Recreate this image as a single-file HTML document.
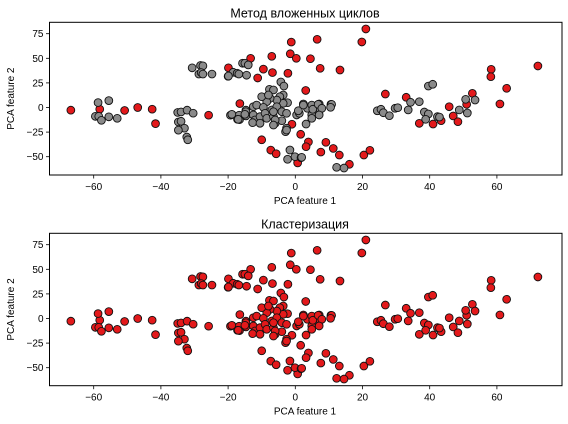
<!DOCTYPE html>
<html><head><meta charset="utf-8"><style>
body{margin:0;background:#fff;}
svg{display:block;font-family:"Liberation Sans","DejaVu Sans",sans-serif;}
</style></head><body>
<svg id="chart" width="568" height="424" viewBox="0 0 568 424" xmlns="http://www.w3.org/2000/svg"></svg>
<script>
// data: PCA feature 1, PCA feature 2, nested-loop outlier label (1 = red)
const xs = [-66.8,-58.2,-50.8,-46.9,-42.6,-41.6,-25.8,-19.9,-16.5,-13.3,-11.2,-9.5,-10,-7.3,-5.7,-7,-6.8,-2.2,-1.2,-1.5,0.3,-1,0.7,1.6,3.1,3.9,3.2,9.1,7.6,11.3,13.1,6.5,21,19.8,4.5,7.4,13.3,26.8,33,16.1,20.4,22.2,36.9,41,43.4,45.8,47,48.4,51,52.7,58.3,58.2,62.9,60.9,72.2,
-58.7,-55.5,-59.5,-58.5,-57.7,-55.5,-53,-35,-34,-32.2,-30.4,-34.8,-34,-33,-34.8,-32.3,-32,-30.7,-28.2,-27.5,-28.7,-28,-27.5,-24.8,-20,-18.5,-17.3,-16.8,-15.7,-15,-14,-14.5,-19.3,-18.8,-16.7,-17.2,-16.6,-14.7,-14.5,-14.7,
-7.7,-6.5,-4.3,-3.4,-3.6,-4.6,-2.3,-3.6,-5.5,-7.5,-8.5,-10,-8,-12.5,-11.5,-9.5,-7,-5.5,-4,-2.6,-18.9,-17,-14.7,-15,-12.5,-12,-12.7,-10.5,-10.5,-9,-8.5,-6.5,-6,-4,-6.5,-2.6,-2.9,0.4,1.2,2.4,3.6,4.9,7.1,7.4,4.9,3.2,0.9,10.6,5.2,-1.6,-0.1,1.7,-2.3,12.3,14.5,2.4,6.8,7.9,7.1,4.9,10.8,10.5,1.9,-6,-6.5,-2.6,-19.9,
24.4,25.5,26.2,28,29.7,30.5,33.6,34.3,36.9,38.4,39.6,38.8,42.3,42.9,39.6,40.9,48.8,51.2,50.7,53.5];
const ys = [-2.7,-1.7,-3,0,-1.7,-16.4,-7.8,40.3,4,50,30,39,-32.8,-43.3,-47,52,35.5,34.8,66.5,54.6,50,-17,-56.3,-27.2,17.3,-35,-39.8,-35.4,-45.3,-41.6,-48.3,69.3,79.8,66.6,49.6,39.8,38.1,13.7,10.4,-57.7,-48.3,-43.5,-16.1,-16.8,-13.4,0.8,-8.6,-14.4,3.2,14.4,38.8,31.3,19.5,3.6,42.2,
5,7,-9,-9,-13,-9.5,-11,-5,-4.5,-2.7,-5.8,-14.7,-14,-21,-23,-30,-32.8,40.3,42.7,42.3,34,35.5,34,34,31.7,35.8,34.8,34,45,45,43.3,32.8,-7.8,-7.2,-7.8,-12,-12.3,-2.7,-6.5,-8.5,
18.5,17.8,26,21.8,12.7,11,4.9,4.3,7.6,9.3,5.9,11,12.7,0.8,2.5,0.2,-2.5,0.8,-4.3,-5.9,-6.9,-12,-4.3,-6.9,-7.6,-12.7,-15.4,-9.3,-16,-5.9,-11,-9.3,-16,-13.4,-4.3,-21,-24.6,-7.6,-5.9,3.6,-0.8,2.5,3.6,-1.8,-7.6,-16.8,-3.3,3.2,-1.8,-43.2,-50,-51,-52.6,-60.8,-61.5,2.5,3.2,-0.8,-7.6,-11,3.2,0.2,-50.6,-12.7,-17.8,-22.9,32,
-3.3,-1.8,-5.3,-8.3,-0.8,-0.2,-2.5,5.3,5.9,-4.6,-6.6,-12,-9.3,-9.7,21.8,23.6,-2.5,-5.6,8.3,7.6];
const labels = xs.map((_, i) => i < 55 ? 1 : 0);
const xTicks = [-60,-40,-20,0,20,40,60];
const yTicks = [75,50,25,0,-25,-50];
const titles = ["Метод вложенных циклов","Кластеризация"];

const svg = document.getElementById('chart');
const NS = 'http://www.w3.org/2000/svg';
function mk(tag, attrs, parent){
  const e = document.createElementNS(NS, tag);
  for (const k in attrs) e.setAttribute(k, attrs[k]);
  parent.appendChild(e); return e;
}
const L = 49.5, R = 562, xScale = 3.36, x0 = 295.3, yScale = 0.984;
const panels = [{top:22.3,bottom:175,y0:107.5},{top:233.3,bottom:385.7,y0:318.5}];
panels.forEach((p, pi) => {
  const sx = v => x0 + v * xScale;
  const sy = v => p.y0 - v * yScale;
  const g = mk('g', {}, svg);
  
  
  const t = mk('text', {x:305, y:p.top-5, 'text-anchor':'middle', 'font-size':'12.5', fill:'#000'}, g);
  t.textContent = titles[pi];
  
  
  xTicks.forEach(v => {
    mk('line', {x1:sx(v), x2:sx(v), y1:p.bottom, y2:p.bottom+3.5, stroke:'#000', 'stroke-width':0.8}, g);
    const tl = mk('text', {x:sx(v), y:p.bottom+15, 'text-anchor':'middle', 'font-size':'10', fill:'#000'}, g);
    tl.textContent = v < 0 ? '\u2212' + (-v) : String(v);
    
    
  });
  yTicks.forEach(v => {
    mk('line', {x1:L, x2:L-3.5, y1:sy(v), y2:sy(v), stroke:'#000', 'stroke-width':0.8}, g);
    const tl = mk('text', {x:L-6, y:sy(v)+3.5, 'text-anchor':'end', 'font-size':'10', fill:'#000'}, g);
    tl.textContent = v < 0 ? '\u2212' + (-v) : String(v);
    
    
  });
  const xl = mk('text', {x:305, y:p.bottom+29, 'text-anchor':'middle', 'font-size':'10', fill:'#000'}, g);
  xl.textContent = 'PCA feature 1';
  
  
  const cy = (p.top + p.bottom) / 2;
  const yl = mk('text', {x:14, y:cy, 'text-anchor':'middle', 'font-size':'10', fill:'#000', transform:'rotate(-90 14 '+cy+')'}, g);
  yl.textContent = 'PCA feature 2';
  
  
  xs.forEach((xv, i) => {
    const red = pi === 1 || labels[i] === 1;
    const c = mk('circle', {cx:sx(xv), cy:sy(ys[i]), r:3.9, fill: red ? '#e3191b' : '#8a8a8a', stroke:'#111', 'stroke-width':0.9}, g);
    
    
  });
  const fr = mk('rect', {x:L, y:p.top, width:R-L, height:p.bottom-p.top, fill:'none', stroke:'#000', 'stroke-width':1}, g);
  
  
});
</script>
</body></html>
